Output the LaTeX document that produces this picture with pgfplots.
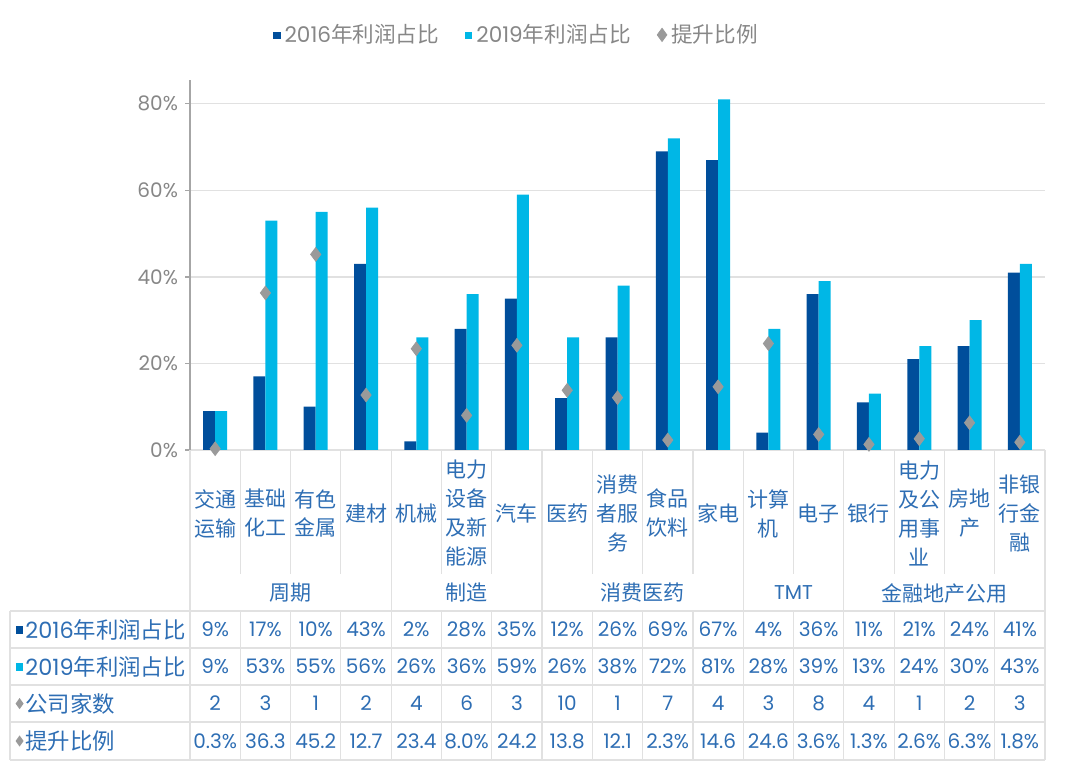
\documentclass[border=0pt]{standalone}
\usepackage{pgfplots}
\pgfplotsset{compat=1.18}
\usepackage{fontspec}
\setmainfont{Poppins}
\newfontfamily\cjk{Noto Sans CJK SC}
\definecolor{c16}{RGB}{0,78,155}
\definecolor{c19}{RGB}{0,183,230}
\definecolor{dgray}{RGB}{154,154,154}
\definecolor{tickgray}{RGB}{135,135,135}
\definecolor{tblue}{RGB}{46,110,180}
\definecolor{lgrid}{RGB}{225,225,225}
\begin{document}
\begin{tikzpicture}[x=1pt,y=1pt]
\path (-95,-160) rectangle (445,225);
\begin{axis}[at={(0,0)}, anchor=south west, scale only axis,
  width=427.5pt, height=185pt,
  xmin=-0.5, xmax=16.5, ymin=0, ymax=85.5,
  axis x line=none, axis y line*=left,
  ytick={0,20,40,60,80},
  yticklabel={\pgfmathprintnumber{\tick}\%},
  /pgf/number format/assume math mode=true,
  yticklabel style={text=tickgray, font=\fontsize{10}{12}\selectfont},
  ymajorgrids, grid style={lgrid, line width=0.6pt},
  y axis line style={gray!70, line width=0.6pt},
  ytick style={gray!70, line width=0.6pt},
  tick align=outside, major tick length=2.5pt,
  clip=false,
  legend columns=3,
  legend style={draw=none, fill=none, at={(0.097,1.122)}, anchor=west,
    font=\fontsize{10.8}{12}\selectfont, text=tickgray,
    /tikz/every even column/.append style={column sep=11pt},
    inner xsep=0pt, inner ysep=0pt},
]
\addplot[ybar, bar width=6pt, bar shift=-3pt, fill=c16, draw=none,
  legend image code/.code={\fill[c16] (0pt,-2.2pt) rectangle (3.6pt,1.6pt);}]
  coordinates {(0,9) (1,17) (2,10) (3,43) (4,2) (5,28) (6,35) (7,12) (8,26) (9,69) (10,67) (11,4) (12,36) (13,11) (14,21) (15,24) (16,41)};
\addplot[ybar, bar width=6pt, bar shift=3pt, fill=c19, draw=none,
  legend image code/.code={\fill[c19] (0pt,-2.2pt) rectangle (3.6pt,1.6pt);}]
  coordinates {(0,9) (1,53) (2,55) (3,56) (4,26) (5,36) (6,59) (7,26) (8,38) (9,72) (10,81) (11,28) (12,39) (13,13) (14,24) (15,30) (16,43)};
\addplot[only marks, mark=diamond*, mark size=3.4pt, color=dgray,
  legend image code/.code={\fill[dgray] (2pt,-3.3pt) -- (4.4pt,0) -- (2pt,3.3pt) -- (-0.4pt,0) -- cycle;}]
  coordinates {(0,0.3) (1,36.3) (2,45.2) (3,12.7) (4,23.4) (5,8.0) (6,24.2) (7,13.8) (8,12.1) (9,2.3) (10,14.6) (11,24.6) (12,3.6) (13,1.3) (14,2.6) (15,6.3) (16,1.8)};
\legend{2016{\cjk 年利润占比}, 2019{\cjk 年利润占比}, {\cjk 提升比例}}
\end{axis}
% table grid
\def\cw{25.1471}
\begin{scope}[draw=lgrid, line width=0.6pt]
\foreach \i in {0,...,17} {
  \draw ({\i*\cw},0) -- ({\i*\cw},-62);
  \draw ({\i*\cw},-80.5) -- ({\i*\cw},-155);
}
\foreach \i in {0,4,7,11,13,17} {
  \draw ({\i*\cw},-62) -- ({\i*\cw},-80.5);
}
\draw (-90,-80.5) -- (-90,-155);
\foreach \y in {-80.5,-99,-117.5,-136,-155} {
  \draw (-90,\y) -- (427.5,\y);
}
\end{scope}
% category labels
\begin{scope}[every node/.style={text=tblue, align=center, inner sep=0pt,
   font=\cjk\fontsize{10.5}{14.5}\selectfont}]
\foreach \t [count=\k from 0] in {交通\\运输, 基础\\化工, 有色\\金属, 建材, 机械, 电力\\设备\\及新\\能源, 汽车, 医药, 消费\\者服\\务, 食品\\饮料, 家电, 计算\\机, 电子, 银行, 电力\\及公\\用事\\业, 房地\\产, 非银\\行金\\融} {
  \node at ({(\k+0.5)*\cw},-31.75) {\t};
}
\node at ({2*\cw},-71.5) {周期};
\node at ({5.5*\cw},-71.5) {制造};
\node at ({9*\cw},-71.5) {消费医药};
\node[font=\fontsize{10}{12}\selectfont] at ({12*\cw},-71.5) {TMT};
\node at ({15*\cw},-71.5) {金融地产公用};
\end{scope}
% data rows
\begin{scope}[every node/.style={text=tblue, inner sep=0pt,
   font=\fontsize{10}{12}\selectfont}]
\foreach \t [count=\k from 0] in {9\%,17\%,10\%,43\%,2\%,28\%,35\%,12\%,26\%,69\%,67\%,4\%,36\%,11\%,21\%,24\%,41\%}
  \node at ({(\k+0.5)*\cw},-89.75) {\t};
\foreach \t [count=\k from 0] in {9\%,53\%,55\%,56\%,26\%,36\%,59\%,26\%,38\%,72\%,81\%,28\%,39\%,13\%,24\%,30\%,43\%}
  \node at ({(\k+0.5)*\cw},-108.25) {\t};
\foreach \t [count=\k from 0] in {2,3,1,2,4,6,3,10,1,7,4,3,8,4,1,2,3}
  \node at ({(\k+0.5)*\cw},-126.75) {\t};
\foreach \t [count=\k from 0] in {0.3\%,36.3,45.2,12.7,23.4,8.0\%,24.2,13.8,12.1,2.3\%,14.6,24.6,3.6\%,1.3\%,2.6\%,6.3\%,1.8\%}
  \node at ({(\k+0.5)*\cw},-145.5) {\t};
\fill[c16] (-87,-91.8) rectangle (-83.4,-88);
\fill[c19] (-87,-110.3) rectangle (-83.4,-106.5);
\fill[dgray] (-85.2,-129.6) -- (-83.2,-126.8) -- (-85.2,-124) -- (-87.2,-126.8) -- cycle;
\fill[dgray] (-85.2,-148.3) -- (-83.2,-145.5) -- (-85.2,-142.7) -- (-87.2,-145.5) -- cycle;
\node[anchor=west, font=\fontsize{11.2}{12}\selectfont] at (-82.5,-89.75) {2016{\cjk 年利润占比}};
\node[anchor=west, font=\fontsize{11.2}{12}\selectfont] at (-82.5,-108.25) {2019{\cjk 年利润占比}};
\node[anchor=west, font=\cjk\fontsize{11.2}{12}\selectfont] at (-82.5,-126.75) {公司家数};
\node[anchor=west, font=\cjk\fontsize{11.2}{12}\selectfont] at (-82.5,-145.5) {提升比例};
\end{scope}
\end{tikzpicture}
\end{document}
